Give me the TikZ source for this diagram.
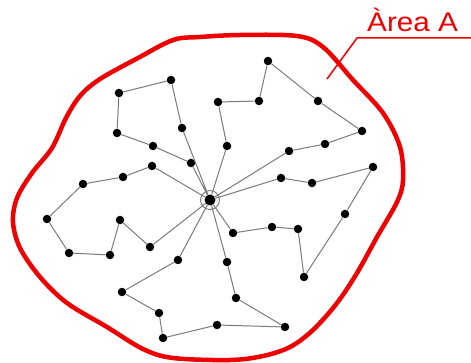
\documentclass[tikz,border=0pt]{standalone}
\usepackage{fontspec}
\usepackage{tikz}
\usetikzlibrary{positioning,calc}
\newfontfamily\areafont[FakeStretch=1.1]{Liberation Sans}
\definecolor{netWire}{HTML}{7A7A7A}
\definecolor{netDot}{HTML}{000000}
\definecolor{areaRed}{HTML}{EE0000}

\begin{document}
\begin{tikzpicture}[
    x=1pt, y=-1pt,
    dot/.style={circle, fill=netDot, inner sep=0pt, minimum size=8.5pt},
    hub/.style={circle, fill=netDot, inner sep=0pt, minimum size=11pt},
    hubring/.style={circle, draw=netWire, line width=0.9pt, inner sep=0pt, minimum size=19pt},
    wire/.style={draw=netWire, line width=1pt},
    boundary/.style={draw=areaRed, line width=4.5pt, line join=round},
    leader/.style={draw=areaRed, line width=1.5pt},
    arealabel/.style={text=areaRed, font=\areafont\fontsize{27}{30}\selectfont, inner sep=0pt}
]
\useasboundingbox (0,0) rectangle (471,363);

% ===== AREA BOUNDARY =====
\draw[boundary] plot[smooth cycle, tension=0.55] coordinates {
    (240,35) (297,36) (323,47) (353,80) (383,113) (400,147) (403,180)
    (397,202) (377,237) (357,273) (337,303) (313,330) (290,347) (263,356)
    (230,360) (173,358) (143,349) (107,327) (67,303) (40,277) (20,248)
    (13,222) (17,198) (32,173) (52,148) (66,118) (80,96)
    (100,79) (138,58) (173,40) (200,37)};

% ===== LABEL =====
\node[arealabel, anchor=base west] (lbl) at (367,32) {Àrea A};
\coordinate (tick) at (327,79);
\coordinate (bend) at (357,38);
\coordinate (lineEnd) at (471,38);
\draw[leader] (tick) -- (bend) -- (lineEnd);

% ===== HUB =====
\node[hub] (hub) at (210,200) {};
\node[hubring] (ring) at (hub) {};

% ===== LOOP A (upper left) =====
\node[dot] (a1) at (182,128) {};
\node[dot] (a2) at (171,80) {};
\node[dot] (a3) at (119,93) {};
\node[dot] (a4) at (117,133) {};
\node[dot] (a5) at (153,146) {};
\node[dot] (a6) at (191,163) {};

% ===== LOOP B (top) =====
\node[dot] (b1) at (227,146) {};
\node[dot] (b2) at (218,102) {};
\node[dot] (b3) at (259,101) {};
\node[dot] (b4) at (268,61) {};
\node[dot] (b5) at (318,101) {};
\node[dot] (b6) at (362,131) {};
\node[dot] (b7) at (325,144) {};
\node[dot] (b8) at (289,151) {};

% ===== LOOP C (right) =====
\node[dot] (c1) at (281,178) {};
\node[dot] (c2) at (312,183) {};
\node[dot] (c3) at (373,167) {};
\node[dot] (c4) at (345,214) {};
\node[dot] (c5) at (304,277) {};
\node[dot] (c6) at (298,229) {};
\node[dot] (c7) at (272,227) {};
\node[dot] (c8) at (233,233) {};

% ===== LOOP D (left) =====
\node[dot] (d1) at (152,166) {};
\node[dot] (d2) at (123,177) {};
\node[dot] (d3) at (83,184) {};
\node[dot] (d4) at (47,219) {};
\node[dot] (d5) at (69,253) {};
\node[dot] (d6) at (110,255) {};
\node[dot] (d7) at (120,220) {};
\node[dot] (d8) at (150,247) {};

% ===== LOOP E (bottom) =====
\node[dot] (e1) at (178,260) {};
\node[dot] (e2) at (122,292) {};
\node[dot] (e3) at (159,313) {};
\node[dot] (e4) at (163,338) {};
\node[dot] (e5) at (217,325) {};
\node[dot] (e6) at (285,327) {};
\node[dot] (e7) at (236,298) {};
\node[dot] (e8) at (227,262) {};

% ===== WIRES =====
\draw[wire] (hub) -- (a1) -- (a2) -- (a3) -- (a4) -- (a5) -- (a6) -- (hub);
\draw[wire] (hub) -- (b1) -- (b2) -- (b3) -- (b4) -- (b5) -- (b6) -- (b7) -- (b8) -- (hub);
\draw[wire] (hub) -- (c1) -- (c2) -- (c3) -- (c4) -- (c5) -- (c6) -- (c7) -- (c8) -- (hub);
\draw[wire] (hub) -- (d1) -- (d2) -- (d3) -- (d4) -- (d5) -- (d6) -- (d7) -- (d8) -- (hub);
\draw[wire] (hub) -- (e1) -- (e2) -- (e3) -- (e4) -- (e5) -- (e6) -- (e7) -- (e8) -- (hub);

\end{tikzpicture}
\end{document}
